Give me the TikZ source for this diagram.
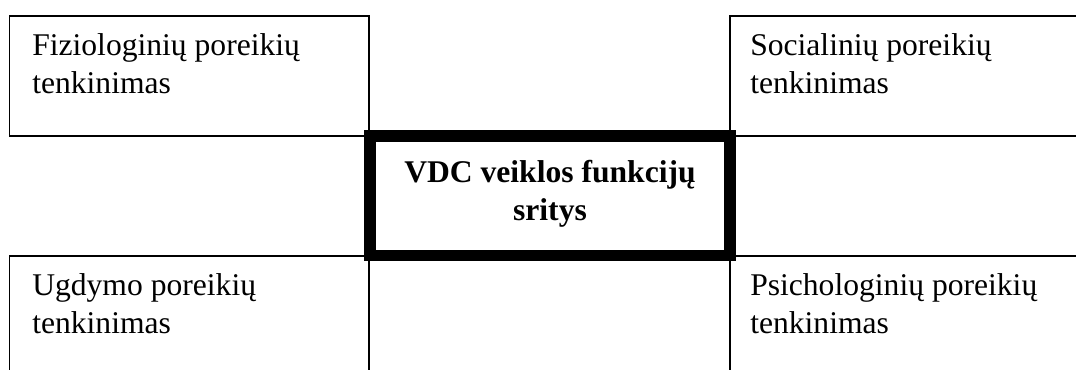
\documentclass[tikz,border=0pt]{standalone}
\usepackage{fontspec}
\setmainfont{Liberation Serif}
\begin{document}
\begin{tikzpicture}[x=0.75pt,y=-0.75pt,
  thinbox/.style={draw=black,line width=0.9pt,fill=white},
  mainbox/.style={draw=black,line width=8.4pt,fill=white},
  lbl/.style={anchor=north west,inner sep=0pt,align=left,font=\fontsize{23.7}{28.5}\selectfont},
  mainlbl/.style={anchor=north,inner sep=0pt,align=center,font=\fontsize{23.7}{28.5}\selectfont\bfseries}]
\useasboundingbox (0,0) rectangle (1076,369);
\clip (0,0) rectangle (1076,369);
% outer boxes
\draw[thinbox] (9.5,16) rectangle (369,136);
\draw[thinbox] (730,16) rectangle (1090,136);
\draw[thinbox] (9.5,256) rectangle (369,400);
\draw[thinbox] (730,256) rectangle (1090,400);
% central box
\draw[mainbox] (370,136) rectangle (730,255.5);
% labels
\node[lbl] (fiz) at (32,33) {Fiziologinių poreikių\\tenkinimas};
\node[lbl] (soc) at (750,33) {Socialinių poreikių\\tenkinimas};
\node[lbl] (ugd) at (32,273) {Ugdymo poreikių\\tenkinimas};
\node[lbl] (psi) at (750,273) {Psichologinių poreikių\\tenkinimas};
\node[mainlbl] (vdc) at (550,160) {VDC veiklos funkcijų\\sritys};
\end{tikzpicture}
\end{document}
